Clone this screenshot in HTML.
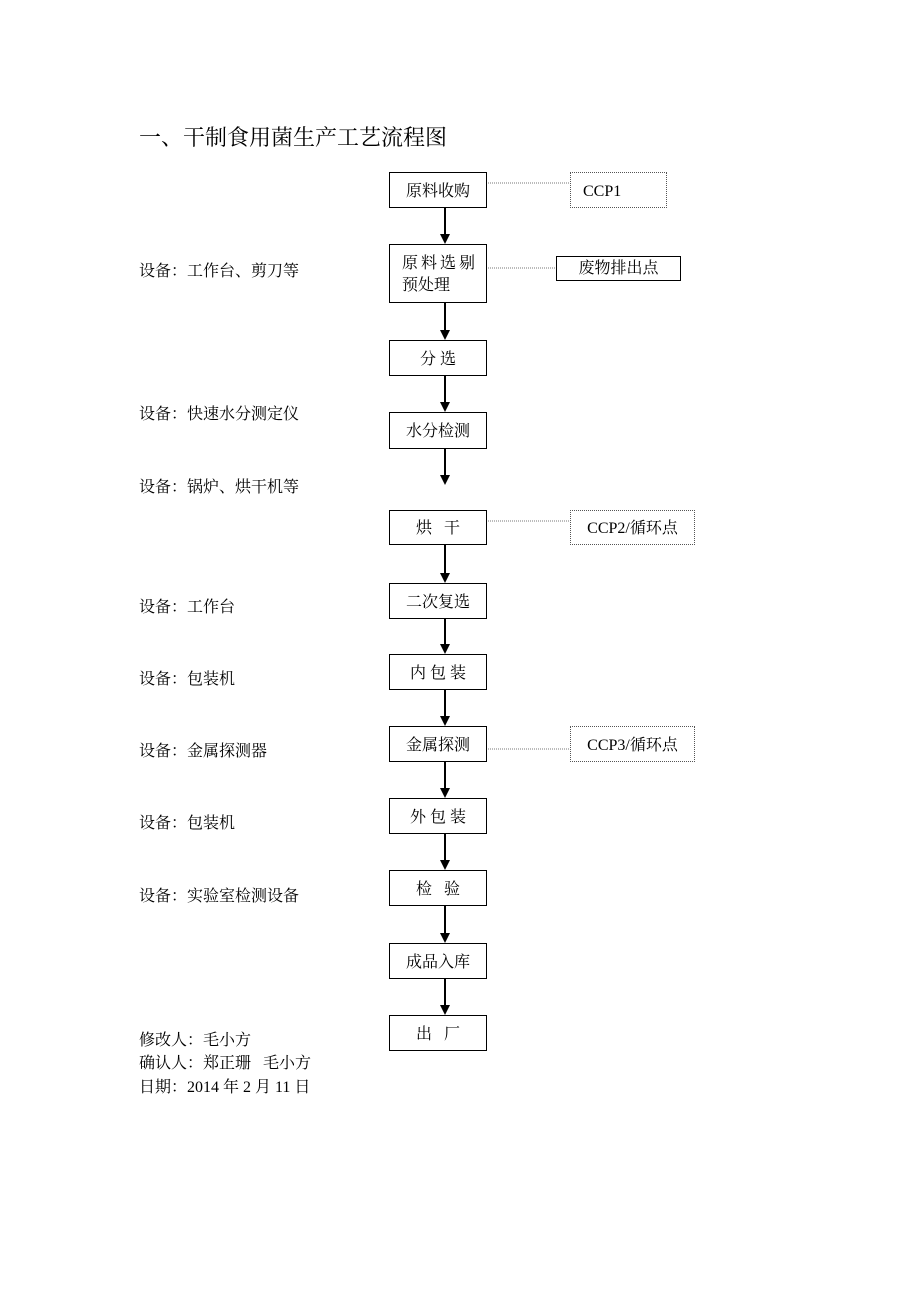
<!DOCTYPE html>
<html><head><meta charset="utf-8"><style>
body{margin:0;background:#fff;}
#p{position:relative;width:920px;height:1302px;font-family:"Liberation Serif","Noto Serif CJK SC",serif;color:#000;font-size:16px;}
.t{position:absolute;white-space:pre;line-height:18px;}
.b{position:absolute;border:1.5px solid #000;box-sizing:border-box;display:flex;align-items:center;justify-content:center;white-space:pre;line-height:22px;padding-top:3px;}
.d{border:1px dotted #555;}
svg{position:absolute;left:0;top:0;}
</style></head><body><div id="p">
<svg width="920" height="1302">
<g stroke="#000" stroke-width="2" fill="#000">
<line x1="445" y1="208" x2="445" y2="236"/><polygon points="440,234 450,234 445,244" stroke-width="0"/>
<line x1="445" y1="303" x2="445" y2="332"/><polygon points="440,330 450,330 445,340" stroke-width="0"/>
<line x1="445" y1="376" x2="445" y2="404"/><polygon points="440,402 450,402 445,412" stroke-width="0"/>
<line x1="445" y1="449" x2="445" y2="477"/><polygon points="440,475 450,475 445,485" stroke-width="0"/>
<line x1="445" y1="545" x2="445" y2="575"/><polygon points="440,573 450,573 445,583" stroke-width="0"/>
<line x1="445" y1="619" x2="445" y2="646"/><polygon points="440,644 450,644 445,654" stroke-width="0"/>
<line x1="445" y1="690" x2="445" y2="718"/><polygon points="440,716 450,716 445,726" stroke-width="0"/>
<line x1="445" y1="762" x2="445" y2="790"/><polygon points="440,788 450,788 445,798" stroke-width="0"/>
<line x1="445" y1="834" x2="445" y2="862"/><polygon points="440,860 450,860 445,870" stroke-width="0"/>
<line x1="445" y1="906" x2="445" y2="935"/><polygon points="440,933 450,933 445,943" stroke-width="0"/>
<line x1="445" y1="979" x2="445" y2="1007"/><polygon points="440,1005 450,1005 445,1015" stroke-width="0"/>
</g>
<g stroke="#777" stroke-width="1" stroke-dasharray="1,1">
<line x1="488" y1="183" x2="570" y2="183"/>
<line x1="488" y1="268" x2="556" y2="268"/>
<line x1="488" y1="521" x2="570" y2="521"/>
<line x1="488" y1="749" x2="570" y2="749"/>
</g>
</svg>
<div class="t" style="left:139px;top:125px;font-size:22px;line-height:26px;">一、干制食用菌生产工艺流程图</div>
<div class="b" style="left:389px;top:172px;width:98px;height:36px;">原料收购</div>
<div class="b" style="left:389px;top:244px;width:98px;height:59px;display:block;padding:8px 0 0 12px;letter-spacing:3px;">原料选剔
<span style="letter-spacing:0">预处理</span></div>
<div class="b" style="left:389px;top:340px;width:98px;height:36px;">分 选</div>
<div class="b" style="left:389px;top:412px;width:98px;height:37px;">水分检测</div>
<div class="b" style="left:389px;top:510px;width:98px;height:35px;">烘   干</div>
<div class="b" style="left:389px;top:583px;width:98px;height:36px;">二次复选</div>
<div class="b" style="left:389px;top:654px;width:98px;height:36px;">内 包 装</div>
<div class="b" style="left:389px;top:726px;width:98px;height:36px;">金属探测</div>
<div class="b" style="left:389px;top:798px;width:98px;height:36px;">外 包 装</div>
<div class="b" style="left:389px;top:870px;width:98px;height:36px;">检   验</div>
<div class="b" style="left:389px;top:943px;width:98px;height:36px;">成品入库</div>
<div class="b" style="left:389px;top:1015px;width:98px;height:36px;">出   厂</div>
<div class="b d" style="left:570px;top:172px;width:97px;height:36px;justify-content:flex-start;padding-left:12px;">CCP1</div>
<div class="b" style="left:556px;top:256px;width:125px;height:25px;border-width:1px;padding-top:1px;">废物排出点</div>
<div class="b d" style="left:570px;top:510px;width:125px;height:35px;">CCP2/循环点</div>
<div class="b d" style="left:570px;top:726px;width:125px;height:36px;">CCP3/循环点</div>
<div class="t" style="left:139px;top:263px;">设备：工作台、剪刀等</div>
<div class="t" style="left:139px;top:406px;">设备：快速水分测定仪</div>
<div class="t" style="left:139px;top:479px;">设备：锅炉、烘干机等</div>
<div class="t" style="left:139px;top:599px;">设备：工作台</div>
<div class="t" style="left:139px;top:671px;">设备：包装机</div>
<div class="t" style="left:139px;top:743px;">设备：金属探测器</div>
<div class="t" style="left:139px;top:815px;">设备：包装机</div>
<div class="t" style="left:139px;top:888px;">设备：实验室检测设备</div>
<div class="t" style="left:139px;top:1032px;">修改人：毛小方</div>
<div class="t" style="left:139px;top:1055px;">确认人：郑正珊   毛小方</div>
<div class="t" style="left:139px;top:1079px;">日期：2014 年 2 月 11 日</div>
</div></body></html>
